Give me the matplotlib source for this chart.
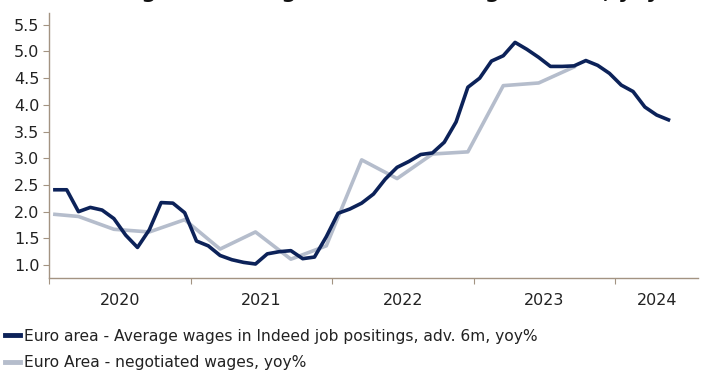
import matplotlib

matplotlib.use("Agg")
import matplotlib.pyplot as plt
import numpy as np
import pandas as pd

# monthly axis, Jan 2020 - Jul 2024
axis_start = "2020-01"
axis_end = "2024-07"

# Indeed wage tracker, monthly from Jan 2020
indeed_start = "2020-01"
indeed_values = [
    2.41, 2.41, 2.00, 2.08, 2.03, 1.87, 1.56, 1.33, 1.66, 2.17, 2.16, 1.98,
    1.45, 1.36, 1.18, 1.10, 1.05, 1.02, 1.21, 1.25, 1.27, 1.12, 1.15, 1.53,
    1.97, 2.05, 2.16, 2.33, 2.61, 2.83, 2.94, 3.07, 3.10, 3.30, 3.68, 4.33,
    4.50, 4.82, 4.92, 5.17, 5.04, 4.89, 4.72, 4.72, 4.73, 4.83, 4.74, 4.59,
    4.37, 4.25, 3.96, 3.81, 3.72,
]

# negotiated wages, quarterly
negotiated_months = [
    "2020-01", "2020-03", "2020-06", "2020-09", "2020-12", "2021-03",
    "2021-06", "2021-09", "2021-12", "2022-03", "2022-06", "2022-09",
    "2022-12", "2023-03", "2023-06", "2023-09",
]
negotiated_values = [
    1.95, 1.91, 1.67, 1.62, 1.85, 1.30, 1.62, 1.11, 1.36, 2.97, 2.62, 3.08,
    3.12, 4.36, 4.41, 4.71,
]

year_labels = ["2020", "2021", "2022", "2023", "2024"]
y_ticks = [1.0, 1.5, 2.0, 2.5, 3.0, 3.5, 4.0, 4.5, 5.0, 5.5]

label_indeed = "Euro area - Average wages in Indeed job positings, adv. 6m, yoy%"
label_negotiated = "Euro Area - negotiated wages, yoy%"
title = "Chart 3: Negotiated wages vs Indeed wage tracker, yoy"

NAVY = "#0c2259"
GREY = "#b5bdcc"
AXIS = "#a39382"


def month_pos(months):
    p0 = pd.Period(axis_start, freq="M")
    return np.array([(pd.Period(m, freq="M") - p0).n for m in months]) + 0.5


n_months = (pd.Period(axis_end, freq="M") - pd.Period(axis_start, freq="M")).n + 1
indeed_months = pd.period_range(indeed_start, periods=len(indeed_values), freq="M")

fig = plt.figure(figsize=(7.05, 3.72), dpi=100)
ax = fig.add_axes([0.0695, 0.253, 0.9205, 0.712])

ax.plot(month_pos([str(m) for m in indeed_months]), indeed_values,
        color=NAVY, lw=2.6, solid_joinstyle="round", label=label_indeed, zorder=3)
ax.plot(month_pos(negotiated_months), negotiated_values,
        color=GREY, lw=2.6, solid_joinstyle="round", label=label_negotiated, zorder=2)

ax.set_xlim(0, n_months)
ax.set_ylim(0.76, 5.72)

for s in ["top", "right"]:
    ax.spines[s].set_visible(False)
for s in ["left", "bottom"]:
    ax.spines[s].set_color(AXIS)
    ax.spines[s].set_linewidth(1.0)

ax.set_yticks(y_ticks)
ax.set_yticklabels([f"{v:.1f}" for v in y_ticks])
ax.tick_params(axis="y", direction="out", length=4, width=0.8, color=AXIS,
               labelsize=11.5, labelcolor="#222222", pad=3)

year_edges = np.arange(0, n_months, 12)
ax.set_xticks(year_edges)
ax.set_xticklabels([])
ax.tick_params(axis="x", which="major", direction="out", length=4, width=0.8, color=AXIS)
centers = [(e + min(e + 12, n_months)) / 2 for e in year_edges]
ax.set_xticks(centers, minor=True)
ax.set_xticklabels(year_labels, minor=True)
ax.tick_params(axis="x", which="minor", length=0, labelsize=11.5,
               labelcolor="#222222", pad=11)

# title sits mostly above the canvas, as in the source image
fig.text(0.012, 1.006, title, fontsize=15, fontweight="bold", va="baseline",
         ha="left", color="#111111")

leg = fig.legend(loc="upper left", bbox_to_anchor=(-0.002, 0.133), frameon=False,
                 fontsize=11, handlelength=1.0, handletextpad=0.25,
                 labelspacing=0.75, borderaxespad=0)
for line in leg.get_lines():
    line.set_linewidth(3.5)
for t in leg.get_texts():
    t.set_color("#222222")
    t.set_fontsize(11.2)

fig.savefig("out.png", dpi=100)
